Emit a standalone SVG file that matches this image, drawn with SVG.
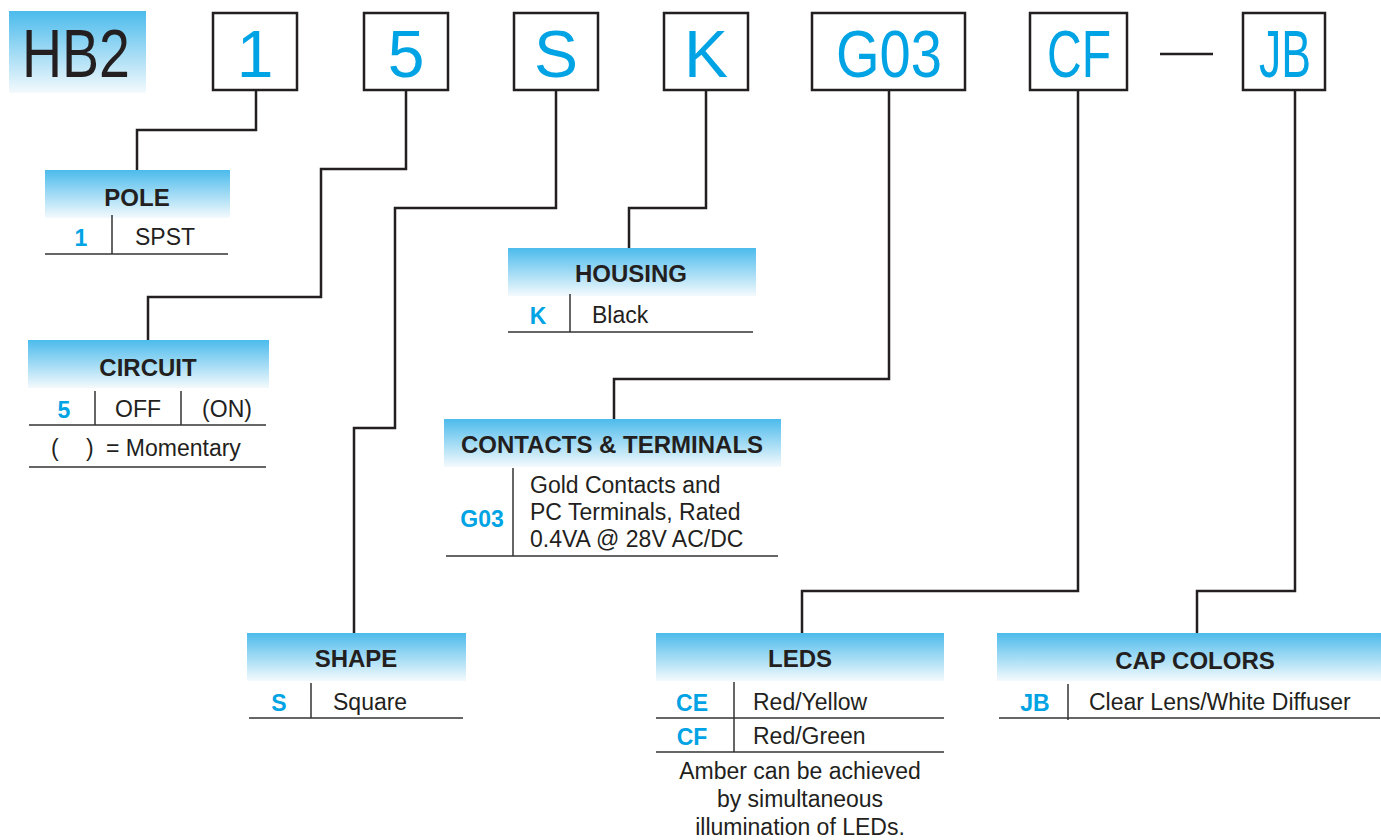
<svg xmlns="http://www.w3.org/2000/svg" width="1381" height="840" viewBox="0 0 1381 840">
<defs>
<linearGradient id="hg" x1="0" y1="0" x2="0" y2="1">
<stop offset="0" stop-color="#4cbbec"/>
<stop offset="1" stop-color="#f4fafd"/>
</linearGradient>
<style>
.box{fill:#fff;stroke:#231f20;stroke-width:2.5}
.big{font-family:"Liberation Sans",Arial,sans-serif;font-size:66px;fill:#00a3e4;text-anchor:middle}
.hdr{font-family:"Liberation Sans",Arial,sans-serif;font-size:24px;font-weight:bold;fill:#231f20;text-anchor:middle}
.code{font-family:"Liberation Sans",Arial,sans-serif;font-size:23px;font-weight:bold;fill:#00a3e4;text-anchor:middle}
.txt{font-family:"Liberation Sans",Arial,sans-serif;font-size:23px;fill:#231f20}
.tl{stroke:#333;stroke-width:1.5;fill:none}
.conn{stroke:#231f20;stroke-width:2.5;fill:none}
</style>
</defs>
<rect width="1381" height="840" fill="#fff"/>

<g id="hb2">
<rect x="9" y="11" width="137" height="82" fill="url(#hg)"/>
<text x="76" y="77" font-family="Liberation Sans,Arial,sans-serif" font-size="68" fill="#231f20" text-anchor="middle" textLength="108" lengthAdjust="spacingAndGlyphs">HB2</text>
</g>
<g id="box-1"><rect class="box" x="213" y="13" width="84" height="77"/><text class="big" x="255" y="77">1</text></g>
<g id="box-5"><rect class="box" x="364" y="13" width="84" height="77"/><text class="big" x="406" y="77">5</text></g>
<g id="box-S"><rect class="box" x="514" y="13" width="84" height="77"/><text class="big" x="556" y="77">S</text></g>
<g id="box-K"><rect class="box" x="664" y="13" width="84" height="77"/><text class="big" x="706" y="77">K</text></g>
<g id="box-G03"><rect class="box" x="812" y="13" width="153" height="77"/><text class="big" x="889" y="77" textLength="106" lengthAdjust="spacingAndGlyphs">G03</text></g>
<g id="box-CF"><rect class="box" x="1030" y="13" width="97" height="77"/><text class="big" x="1079" y="77" textLength="64" lengthAdjust="spacingAndGlyphs">CF</text></g>
<g id="dash"><line x1="1160" y1="54" x2="1213" y2="54" stroke="#231f20" stroke-width="2.5"/></g>
<g id="box-JB"><rect class="box" x="1243" y="13" width="82" height="77"/><text class="big" x="1285" y="77" textLength="52" lengthAdjust="spacingAndGlyphs">JB</text></g>

<g id="connectors">
<polyline class="conn" points="256,90 256,130 137,130 137,170"/>
<polyline class="conn" points="406,90 406,169 321,169 321,297 148,297 148,340"/>
<polyline class="conn" points="556,90 556,208 395,208 395,428 354,428 354,633"/>
<polyline class="conn" points="706,90 706,208 629,208 629,248"/>
<polyline class="conn" points="889,90 889,379 614,379 614,419"/>
<polyline class="conn" points="1078,90 1078,591 802,591 802,633"/>
<polyline class="conn" points="1295,90 1295,591 1197,591 1197,633"/>
</g>

<g id="pole">
<rect x="45" y="170" width="185" height="48" fill="url(#hg)"/>
<text class="hdr" x="137" y="206">POLE</text>
<line class="tl" x1="112" y1="215" x2="112" y2="254"/>
<line class="tl" x1="45" y1="254" x2="228" y2="254"/>
<text class="code" x="81" y="246">1</text>
<text class="txt" x="165" y="245" text-anchor="middle">SPST</text>
</g>

<g id="circuit">
<rect x="28" y="340" width="241" height="48" fill="url(#hg)"/>
<text class="hdr" x="148" y="376">CIRCUIT</text>
<line class="tl" x1="95" y1="391" x2="95" y2="425"/>
<line class="tl" x1="181" y1="391" x2="181" y2="425"/>
<line class="tl" x1="29" y1="425" x2="266" y2="425"/>
<text class="code" x="64" y="418">5</text>
<text class="txt" x="138" y="417" text-anchor="middle">OFF</text>
<text class="txt" x="227" y="417" text-anchor="middle">(ON)</text>
<text class="txt" x="51" y="456">(</text>
<text class="txt" x="86" y="456">)</text>
<text class="txt" x="106" y="456">= Momentary</text>
<line class="tl" x1="29" y1="467" x2="266" y2="467"/>
</g>

<g id="housing">
<rect x="508" y="248" width="248" height="48" fill="url(#hg)"/>
<text class="hdr" x="631" y="282">HOUSING</text>
<line class="tl" x1="570" y1="294" x2="570" y2="332"/>
<line class="tl" x1="508" y1="332" x2="753" y2="332"/>
<text class="code" x="538" y="324">K</text>
<text class="txt" x="592" y="323">Black</text>
</g>

<g id="contacts">
<rect x="444" y="419" width="337" height="48" fill="url(#hg)"/>
<text class="hdr" x="612" y="453">CONTACTS &amp; TERMINALS</text>
<line class="tl" x1="513" y1="468" x2="513" y2="556"/>
<line class="tl" x1="446" y1="556" x2="778" y2="556"/>
<text class="code" x="482" y="527">G03</text>
<text class="txt" x="530" y="493">Gold Contacts and</text>
<text class="txt" x="530" y="520">PC Terminals, Rated</text>
<text class="txt" x="530" y="547">0.4VA @ 28V AC/DC</text>
</g>

<g id="shape">
<rect x="247" y="633" width="219" height="48" fill="url(#hg)"/>
<text class="hdr" x="356" y="667">SHAPE</text>
<line class="tl" x1="311" y1="683" x2="311" y2="718"/>
<line class="tl" x1="249" y1="718" x2="463" y2="718"/>
<text class="code" x="279" y="711">S</text>
<text class="txt" x="333" y="710">Square</text>
</g>

<g id="leds">
<rect x="656" y="633" width="288" height="48" fill="url(#hg)"/>
<text class="hdr" x="800" y="667">LEDS</text>
<line class="tl" x1="734" y1="682" x2="734" y2="752"/>
<line class="tl" x1="656" y1="718" x2="944" y2="718"/>
<line class="tl" x1="656" y1="752" x2="944" y2="752"/>
<text class="code" x="692" y="711">CE</text>
<text class="txt" x="753" y="710">Red/Yellow</text>
<text class="code" x="692" y="745">CF</text>
<text class="txt" x="753" y="744">Red/Green</text>
<text class="txt" x="800" y="779" text-anchor="middle">Amber can be achieved</text>
<text class="txt" x="800" y="807" text-anchor="middle">by simultaneous</text>
<text class="txt" x="800" y="835" text-anchor="middle">illumination of LEDs.</text>
</g>

<g id="capcolors">
<rect x="997" y="633" width="384" height="48" fill="url(#hg)"/>
<text class="hdr" x="1195" y="669">CAP COLORS</text>
<line class="tl" x1="1068" y1="684" x2="1068" y2="720"/>
<line class="tl" x1="999" y1="718" x2="1380" y2="718"/>
<text class="code" x="1035" y="711">JB</text>
<text class="txt" x="1089" y="710">Clear Lens/White Diffuser</text>
</g>
</svg>
